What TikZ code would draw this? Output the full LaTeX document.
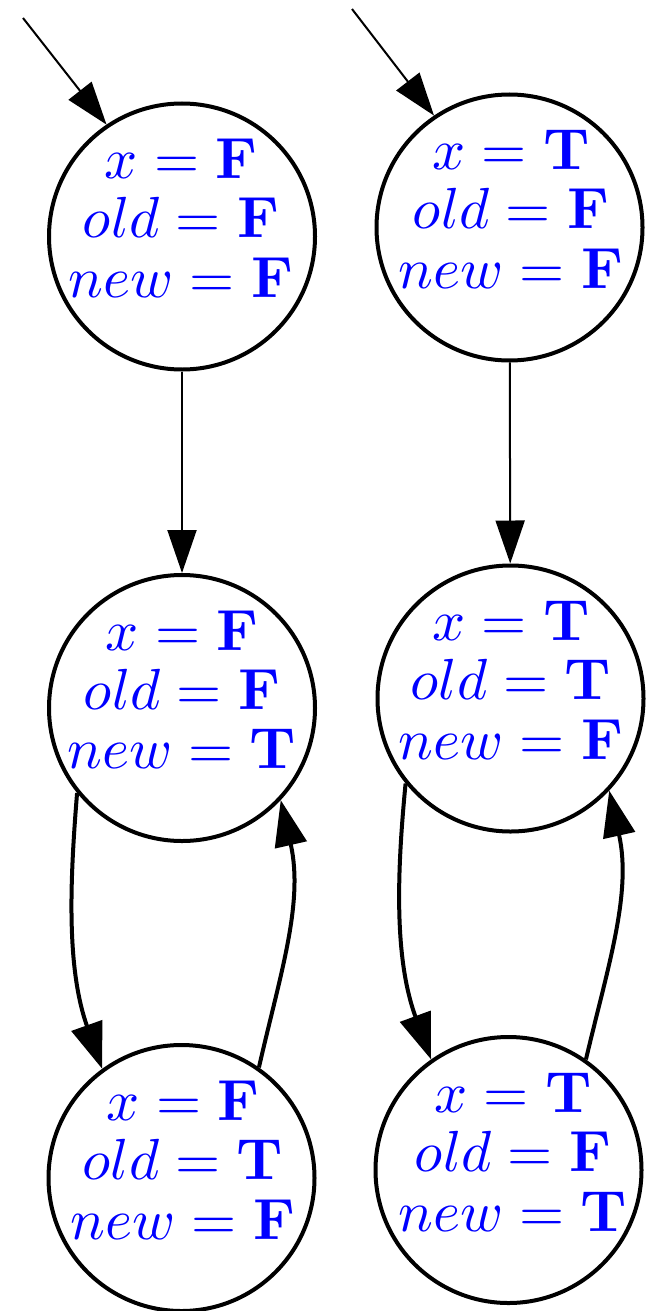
\documentclass[tikz,border=0pt]{standalone}
\usetikzlibrary{arrows.meta}
\tikzset{
  state/.style={circle, draw, line width=4pt, minimum size=266pt, inner sep=0pt},
  lbl/.style={text=blue, align=center, inner sep=0pt, scale=5.8, transform shape, font=\fontsize{10}{10.2}\selectfont},
  thinedge/.style={line width=2pt, -{Triangle[length=43pt,width=29pt]}},
  loopedge/.style={line width=4pt, -{Triangle[length=46pt,width=32pt]}},
}
\begin{document}
\begin{tikzpicture}[x=1pt,y=-1pt]
\useasboundingbox (0,0) rectangle (648,1311);
% states
\node[state] (A) at (182,236.5) {};
\node[state] (B) at (182,708) {};
\node[state] (C) at (181.5,1178) {};
\node[state] (D) at (509.5,227.5) {};
\node[state] (E) at (510.5,698.5) {};
\node[state] (F) at (508.5,1170) {};
% labels
\node[lbl] (tA) at (181,218) {$x = \mathbf{F}$\\ $old = \mathbf{F}$\\ $new = \mathbf{F}$};
\node[lbl] (tB) at (182,689.5) {$x = \mathbf{F}$\\ $old = \mathbf{F}$\\ $new = \mathbf{T}$};
\node[lbl] (tC) at (183,1160) {$x = \mathbf{F}$\\ $old = \mathbf{T}$\\ $new = \mathbf{F}$};
\node[lbl] (tD) at (511,209) {$x = \mathbf{T}$\\ $old = \mathbf{F}$\\ $new = \mathbf{F}$};
\node[lbl] (tE) at (511,680) {$x = \mathbf{T}$\\ $old = \mathbf{T}$\\ $new = \mathbf{F}$};
\node[lbl] (tF) at (513,1152) {$x = \mathbf{T}$\\ $old = \mathbf{F}$\\ $new = \mathbf{T}$};
% initial arrows
\coordinate (sA) at (23,18);
\coordinate (sD) at (352,9);
\draw[thinedge] (sA) -- (A.124.5);
\draw[thinedge] (sD) -- (D.124.6);
% straight transitions
\draw[thinedge] (A) -- (B);
\draw[thinedge] (D) -- (E);
% loops
\draw[loopedge] (B.219.7) .. controls (70,880) and (66.2,967.5) .. (C.126.5);
\draw[loopedge] (C.55.4) .. controls (280,975) and (304,902.8) .. (B.317.5);
\draw[loopedge] (E.219.8) .. controls (397,872) and (394,958) .. (F.125.1);
\draw[loopedge] (F.55.4) .. controls (608,966) and (632,893) .. (E.317.5);
\end{tikzpicture}
\end{document}
